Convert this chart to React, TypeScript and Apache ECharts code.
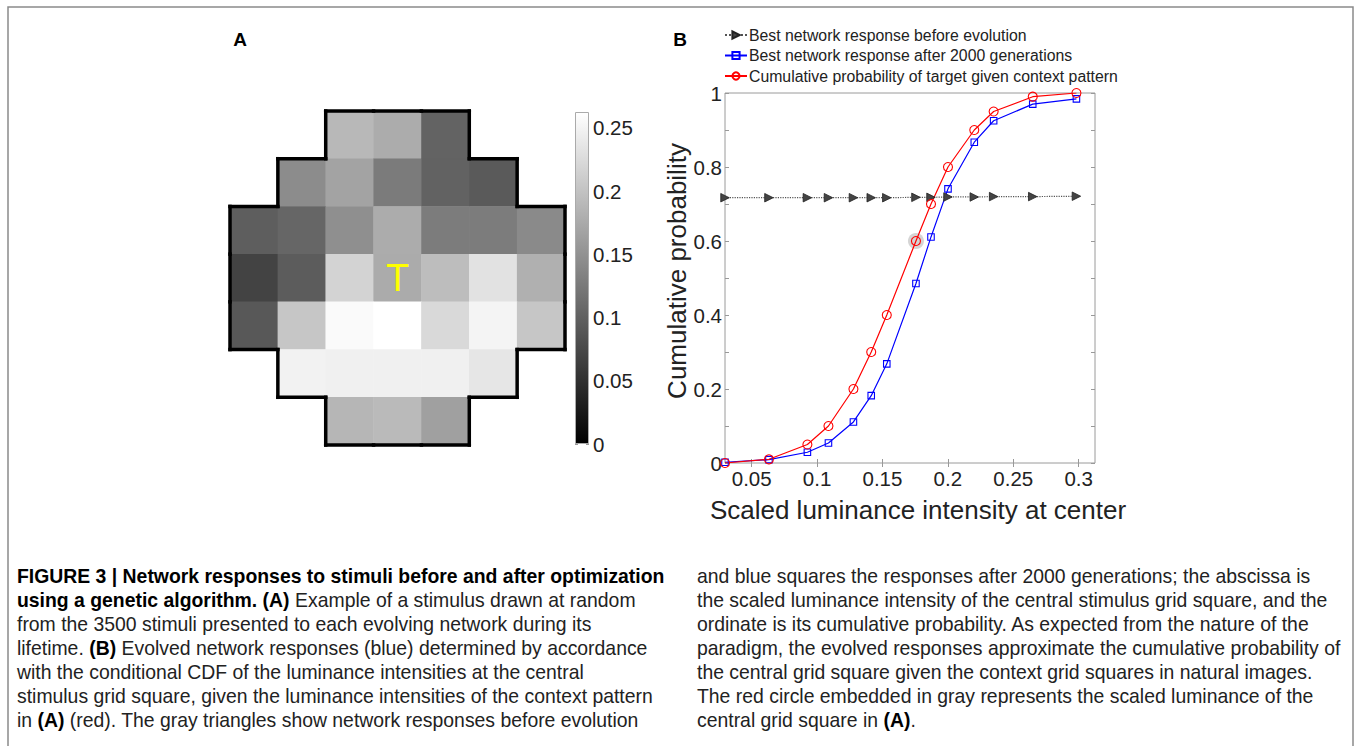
import React, { useEffect, useRef } from "react";
import * as echarts from "echarts";

const FONT = "'Liberation Sans', Arial, Helvetica, sans-serif";

// ---- Panel A: stimulus grid (row 0 = top), null = outside the stimulus ----
const gridIndex = ["0", "1", "2", "3", "4", "5", "6"];
const stimulusRows: (number | null)[][] = [
  [null, null, 0.189, 0.177, 0.102, null, null],
  [null, 0.144, 0.168, 0.127, 0.101, 0.093, null],
  [0.097, 0.105, 0.147, 0.177, 0.128, 0.128, 0.142],
  [0.069, 0.095, 0.217, 0.1756, 0.195, 0.233, 0.181],
  [0.091, 0.204, 0.257, 0.2625, 0.223, 0.251, 0.204],
  [null, 0.249, 0.247, 0.247, 0.247, 0.237, null],
  [null, null, 0.187, 0.191, 0.165, null, null],
];
const targetCell = [3, 3];
const colorbarMax = 0.2625;
const colorbarTicks = [0, 0.05, 0.1, 0.15, 0.2, 0.25];

// ---- Panel B: responses ----
const luminance = [0.0296, 0.0632, 0.0926, 0.1087, 0.1278, 0.1414, 0.1533, 0.1756, 0.1871, 0.2001, 0.2202, 0.235, 0.2649, 0.2983];
const beforeEvolution = [0.717, 0.717, 0.717, 0.717, 0.717, 0.717, 0.717, 0.718, 0.718, 0.719, 0.719, 0.72, 0.72, 0.721];
const afterEvolution = [0.002, 0.009, 0.029, 0.054, 0.111, 0.182, 0.268, 0.485, 0.611, 0.741, 0.867, 0.925, 0.97, 0.984];
const cumulativeProb = [0, 0.01, 0.05, 0.1, 0.2, 0.3, 0.4, 0.6, 0.7, 0.8, 0.9, 0.95, 0.99, 1.0];
const highlightPoint = [0.1756, 0.6];
const xMin = 0.0296;
const xMax = 0.3125;
const xTicks = [0.05, 0.1, 0.15, 0.2, 0.25, 0.3];
const yLabelTicks = [0, 0.2, 0.4, 0.6, 0.8, 1];
const seriesNames = [
  "Best network response before evolution",
  "Best network response after 2000 generations",
  "Cumulative probability of target given context pattern",
];

// ---- Caption ----
const captionLeft = [
  "{b|FIGURE 3 | Network responses to stimuli before and after optimization}",
  "{b|using a genetic algorithm. (A)} Example of a stimulus drawn at random",
  "from the 3500 stimuli presented to each evolving network during its",
  "lifetime. {b|(B)} Evolved network responses (blue) determined by accordance",
  "with the conditional CDF of the luminance intensities at the central",
  "stimulus grid square, given the luminance intensities of the context pattern",
  "in {b|(A)} (red). The gray triangles show network responses before evolution",
];
const captionRight = [
  "and blue squares the responses after 2000 generations; the abscissa is",
  "the scaled luminance intensity of the central stimulus grid square, and the",
  "ordinate is its cumulative probability. As expected from the nature of the",
  "paradigm, the evolved responses approximate the cumulative probability of",
  "the central grid square given the context grid squares in natural images.",
  "The red circle embedded in gray represents the scaled luminance of the",
  "central grid square in {b|(A)}.",
];

export default function App() {
  const ref = useRef<HTMLDivElement>(null);

  useEffect(() => {
    if (!ref.current) return;
    const chart = echarts.init(ref.current, undefined, { renderer: "svg" });

    const has = (c: number, r: number) =>
      r >= 0 && r < 7 && c >= 0 && c < 7 && stimulusRows[r][c] != null;

    const heatData: any[] = [];
    const cells: number[][] = [];
    stimulusRows.forEach((row, r) =>
      row.forEach((v, c) => {
        if (v == null) return;
        cells.push([c, r]);
        if (c === targetCell[0] && r === targetCell[1]) {
          heatData.push({
            value: [c, r, v],
            label: {
              show: true,
              formatter: "T",
              color: "#ffff00",
              fontSize: 38,
              fontFamily: FONT,
            },
          });
        } else {
          heatData.push([c, r, v]);
        }
      })
    );

    const capText = (lines: string[], x: number) =>
      lines.map((t, i) => ({
        type: "text",
        x,
        y: 576 + i * 23.9,
        scaleX: 0.97,
        style: {
          text: t,
          x: 0,
          y: 0,
          fill: "#222",
          fontSize: 20,
          fontFamily: FONT,
          verticalAlign: "middle",
          rich: {
            b: { fontWeight: "bold", fill: "#000", fontSize: 20, fontFamily: FONT },
          },
        },
      }));

    const pts = (ys: number[]) => luminance.map((x, i) => [x, ys[i]]);
    const tickLabel = { fontSize: 20.5, color: "#222", fontFamily: FONT };

    const option: any = {
      animation: false,
      backgroundColor: "#ffffff",
      textStyle: { fontFamily: FONT },
      grid: [
        { left: 230, top: 111, width: 335, height: 334, show: false },
        { left: 575, top: 112, width: 14, height: 332, show: false },
        { left: 725, top: 93, width: 370, height: 370, show: true, borderColor: "#9a9a9a", borderWidth: 1 },
      ],
      xAxis: [
        { type: "category", gridIndex: 0, data: gridIndex, show: false },
        { type: "category", gridIndex: 1, data: ["cb"], show: false },
        {
          type: "value",
          gridIndex: 2,
          min: xMin,
          max: xMax,
          axisLine: { show: false },
          splitLine: { show: false },
          axisTick: { show: true, inside: true, length: 4, customValues: xTicks, lineStyle: { color: "#999" } },
          axisLabel: { customValues: xTicks, margin: 5, ...tickLabel },
          name: "Scaled luminance intensity at center",
          nameLocation: "middle",
          nameGap: 34,
          nameTextStyle: { fontSize: 26, color: "#222", fontFamily: FONT, padding: [0, 0, 0, 16] },
        },
        {
          type: "value",
          gridIndex: 2,
          position: "top",
          min: xMin,
          max: xMax,
          axisLine: { show: false },
          splitLine: { show: false },
          axisTick: { show: true, inside: true, length: 4, customValues: xTicks, lineStyle: { color: "#999" } },
          axisLabel: { show: false },
        },
      ],
      yAxis: [
        { type: "category", gridIndex: 0, data: gridIndex, inverse: true, show: false },
        {
          type: "value",
          gridIndex: 1,
          position: "right",
          min: 0,
          max: colorbarMax,
          axisLine: { show: false },
          splitLine: { show: false },
          axisTick: { show: true, inside: true, length: 3, customValues: colorbarTicks, lineStyle: { color: "#999" } },
          axisLabel: { customValues: colorbarTicks, margin: 4, ...tickLabel },
        },
        {
          type: "value",
          gridIndex: 1,
          position: "left",
          min: 0,
          max: colorbarMax,
          axisLine: { show: false },
          splitLine: { show: false },
          axisTick: { show: true, inside: true, length: 3, customValues: colorbarTicks, lineStyle: { color: "#999" } },
          axisLabel: { show: false },
        },
        {
          type: "value",
          gridIndex: 2,
          position: "left",
          min: 0,
          max: 1,
          interval: 0.1,
          axisLine: { show: false },
          splitLine: { show: false },
          axisTick: { show: true, inside: true, length: 4, lineStyle: { color: "#999" } },
          axisLabel: { customValues: yLabelTicks, margin: 3, ...tickLabel },
          name: "Cumulative probability",
          nameLocation: "middle",
          nameRotate: 90,
          nameGap: 32,
          nameTextStyle: { fontSize: 26, color: "#222", fontFamily: FONT, padding: [0, 0, 0, 14] },
        },
        {
          type: "value",
          gridIndex: 2,
          position: "right",
          min: 0,
          max: 1,
          interval: 0.1,
          axisLine: { show: false },
          splitLine: { show: false },
          axisTick: { show: true, inside: true, length: 4, lineStyle: { color: "#999" } },
          axisLabel: { show: false },
        },
      ],
      visualMap: {
        show: false,
        seriesIndex: 0,
        dimension: 2,
        min: 0,
        max: colorbarMax,
        inRange: { color: ["#000000", "#ffffff"] },
      },
      legend: {
        orient: "vertical",
        left: 724,
        top: 27,
        itemGap: 4.5,
        itemWidth: 22,
        itemHeight: 9,
        padding: 0,
        data: [seriesNames[0], seriesNames[1], seriesNames[2]],
        textStyle: { fontSize: 15.8, color: "#222", fontFamily: FONT, padding: [0, 0, 0, -3] },
      },
      series: [
        {
          type: "heatmap",
          xAxisIndex: 0,
          yAxisIndex: 0,
          data: heatData,
          itemStyle: { borderWidth: 0 },
          emphasis: { disabled: true },
        },
        {
          type: "custom",
          xAxisIndex: 0,
          yAxisIndex: 0,
          data: cells,
          encode: { x: 0, y: 1 },
          silent: true,
          z: 5,
          renderItem: (params: any, api: any) => {
            const c = api.value(0);
            const r = api.value(1);
            const p = api.coord([c, r]);
            const s = api.size([1, 1]);
            const x0 = p[0] - s[0] / 2;
            const x1 = p[0] + s[0] / 2;
            const y0 = p[1] - s[1] / 2;
            const y1 = p[1] + s[1] / 2;
            const st = { stroke: "#000", lineWidth: 3.5, lineCap: "square" };
            const ch: any[] = [];
            if (!has(c, r - 1)) ch.push({ type: "line", shape: { x1: x0, y1: y0, x2: x1, y2: y0 }, style: st });
            if (!has(c, r + 1)) ch.push({ type: "line", shape: { x1: x0, y1: y1, x2: x1, y2: y1 }, style: st });
            if (!has(c - 1, r)) ch.push({ type: "line", shape: { x1: x0, y1: y0, x2: x0, y2: y1 }, style: st });
            if (!has(c + 1, r)) ch.push({ type: "line", shape: { x1: x1, y1: y0, x2: x1, y2: y1 }, style: st });
            return { type: "group", children: ch };
          },
        },
        {
          type: "bar",
          xAxisIndex: 1,
          yAxisIndex: 1,
          data: [colorbarMax],
          barWidth: "100%",
          silent: true,
          itemStyle: {
            color: new echarts.graphic.LinearGradient(0, 0, 0, 1, [
              { offset: 0, color: "#ffffff" },
              { offset: 1, color: "#000000" },
            ]),
            borderColor: "#aaa",
            borderWidth: 1,
          },
        },
        {
          type: "scatter",
          xAxisIndex: 2,
          yAxisIndex: 3,
          data: [highlightPoint],
          symbolSize: 16,
          silent: true,
          itemStyle: { color: "rgba(150,150,150,0.5)" },
        },
        {
          name: seriesNames[0],
          type: "line",
          xAxisIndex: 2,
          yAxisIndex: 3,
          data: pts(beforeEvolution),
          symbol: "triangle",
          symbolRotate: -90,
          symbolSize: 8.5,
          lineStyle: { color: "#555", width: 1.2, type: "dotted" },
          itemStyle: { color: "#444", borderColor: "#222", borderWidth: 0.8 },
        },
        {
          name: seriesNames[1],
          type: "line",
          xAxisIndex: 2,
          yAxisIndex: 3,
          data: pts(afterEvolution),
          symbol: "rect",
          symbolSize: 6.5,
          lineStyle: { color: "#0000ff", width: 1.2 },
          itemStyle: { color: "rgba(0,0,0,0)", borderColor: "#0000ff", borderWidth: 1.1 },
        },
        {
          name: seriesNames[2],
          type: "line",
          xAxisIndex: 2,
          yAxisIndex: 3,
          data: pts(cumulativeProb),
          symbol: "circle",
          symbolSize: 9,
          lineStyle: { color: "#ff0000", width: 1.2 },
          itemStyle: { color: "rgba(0,0,0,0)", borderColor: "#ff0000", borderWidth: 1.1 },
        },
      ],
      graphic: [
        {
          type: "rect",
          shape: { x: 8, y: 7, width: 1345, height: 760 },
          style: { fill: "none", stroke: "#8a8a8a", lineWidth: 1.5 },
          silent: true,
        },
        {
          type: "text",
          x: 240,
          y: 39,
          style: { text: "A", fontSize: 19, fontWeight: "bold", fontFamily: FONT, fill: "#000", align: "center", verticalAlign: "middle" },
        },
        {
          type: "text",
          x: 680,
          y: 39,
          style: { text: "B", fontSize: 19, fontWeight: "bold", fontFamily: FONT, fill: "#000", align: "center", verticalAlign: "middle" },
        },
        ...capText(captionLeft, 17),
        ...capText(captionRight, 697),
      ],
    };

    chart.setOption(option);
    return () => chart.dispose();
  }, []);

  return (
    <div
      ref={ref}
      style={{ position: "fixed", left: 0, top: 0, width: 1355, height: 746, background: "#fff" }}
    />
  );
}
